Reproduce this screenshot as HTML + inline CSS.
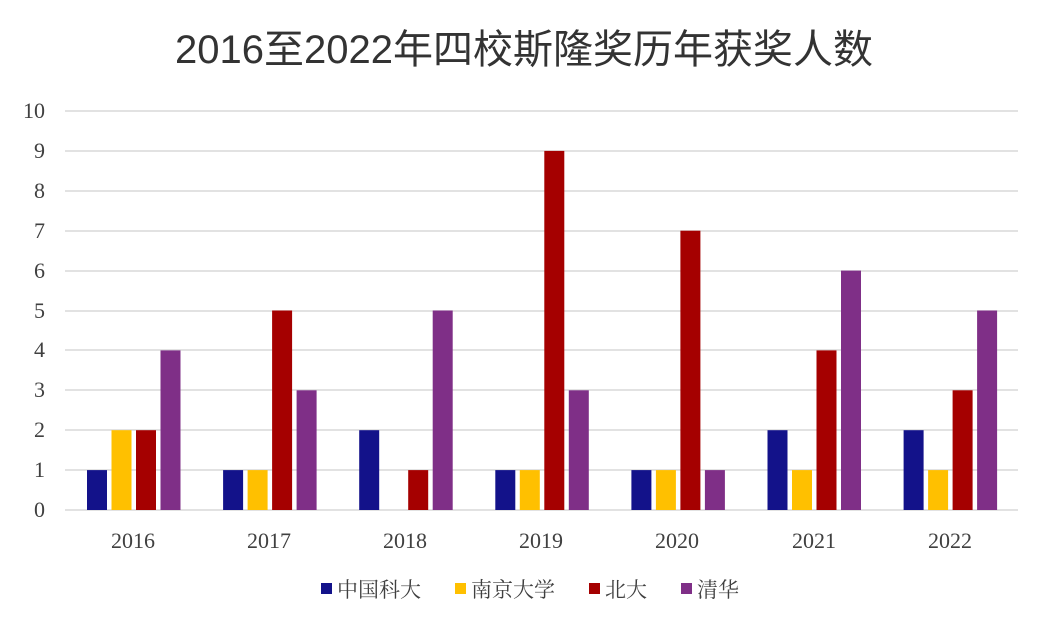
<!DOCTYPE html>
<html><head><meta charset="utf-8"><style>
body{margin:0;background:#fff;}
svg text{font-family:"Liberation Serif","Noto Serif CJK SC",serif;}
</style></head><body>
<svg width="1049" height="628" xmlns="http://www.w3.org/2000/svg">
<rect width="1049" height="628" fill="#fff"/>
<text x="524" y="63" text-anchor="middle" font-size="40" fill="#333" style="font-family:'Liberation Sans','Noto Sans CJK SC',sans-serif">2016至2022年四校斯隆奖历年获奖人数</text>
<g stroke="#d9d9d9" stroke-width="1.5">
<line x1="65" x2="1018" y1="111" y2="111"/><line x1="65" x2="1018" y1="151" y2="151"/><line x1="65" x2="1018" y1="191" y2="191"/><line x1="65" x2="1018" y1="231" y2="231"/><line x1="65" x2="1018" y1="271" y2="271"/><line x1="65" x2="1018" y1="311" y2="311"/><line x1="65" x2="1018" y1="350" y2="350"/><line x1="65" x2="1018" y1="390" y2="390"/><line x1="65" x2="1018" y1="430" y2="430"/><line x1="65" x2="1018" y1="470" y2="470"/><line x1="65" x2="1018" y1="510" y2="510"/>
</g>
<g font-size="22" fill="#404040" text-anchor="end">
<text x="45" y="118">10</text><text x="45" y="158">9</text><text x="45" y="198">8</text><text x="45" y="238">7</text><text x="45" y="278">6</text><text x="45" y="318">5</text><text x="45" y="357">4</text><text x="45" y="397">3</text><text x="45" y="437">2</text><text x="45" y="477">1</text><text x="45" y="517">0</text>
</g>
<g font-size="22" fill="#404040" text-anchor="middle">
<text x="133" y="548">2016</text><text x="269" y="548">2017</text><text x="405" y="548">2018</text><text x="541" y="548">2019</text><text x="677" y="548">2020</text><text x="814" y="548">2021</text><text x="950" y="548">2022</text>
</g>
<g>
<rect x="87" y="470.1" width="20" height="39.9" fill="#13128A"/>
<rect x="111.5" y="430.2" width="20" height="79.8" fill="#FFC000"/>
<rect x="136" y="430.2" width="20" height="79.8" fill="#A50000"/>
<rect x="160.5" y="350.4" width="20" height="159.6" fill="#7F2F87"/>

<rect x="223.1" y="470.1" width="20" height="39.9" fill="#13128A"/>
<rect x="247.6" y="470.1" width="20" height="39.9" fill="#FFC000"/>
<rect x="272.1" y="310.5" width="20" height="199.5" fill="#A50000"/>
<rect x="296.6" y="390.3" width="20" height="119.7" fill="#7F2F87"/>

<rect x="359.2" y="430.2" width="20" height="79.8" fill="#13128A"/>
<rect x="408.2" y="470.1" width="20" height="39.9" fill="#A50000"/>
<rect x="432.7" y="310.5" width="20" height="199.5" fill="#7F2F87"/>

<rect x="495.3" y="470.1" width="20" height="39.9" fill="#13128A"/>
<rect x="519.8" y="470.1" width="20" height="39.9" fill="#FFC000"/>
<rect x="544.3" y="150.9" width="20" height="359.1" fill="#A50000"/>
<rect x="568.8" y="390.3" width="20" height="119.7" fill="#7F2F87"/>

<rect x="631.4" y="470.1" width="20" height="39.9" fill="#13128A"/>
<rect x="655.9" y="470.1" width="20" height="39.9" fill="#FFC000"/>
<rect x="680.4" y="230.7" width="20" height="279.3" fill="#A50000"/>
<rect x="704.9" y="470.1" width="20" height="39.9" fill="#7F2F87"/>

<rect x="767.5" y="430.2" width="20" height="79.8" fill="#13128A"/>
<rect x="792" y="470.1" width="20" height="39.9" fill="#FFC000"/>
<rect x="816.5" y="350.4" width="20" height="159.6" fill="#A50000"/>
<rect x="841" y="270.6" width="20" height="239.4" fill="#7F2F87"/>

<rect x="903.6" y="430.2" width="20" height="79.8" fill="#13128A"/>
<rect x="928.1" y="470.1" width="20" height="39.9" fill="#FFC000"/>
<rect x="952.6" y="390.3" width="20" height="119.7" fill="#A50000"/>
<rect x="977.1" y="310.5" width="20" height="199.5" fill="#7F2F87"/>
</g>
<g font-size="21" fill="#404040" style="font-family:'Liberation Sans','Noto Sans CJK SC',sans-serif">
<rect x="321" y="583" width="11" height="11" fill="#13128A"/><text x="337" y="597">中国科大</text>
<rect x="455" y="583" width="11" height="11" fill="#FFC000"/><text x="471" y="597">南京大学</text>
<rect x="589" y="583" width="11" height="11" fill="#A50000"/><text x="605" y="597">北大</text>
<rect x="681" y="583" width="11" height="11" fill="#7F2F87"/><text x="697" y="597">清华</text>
</g>
</svg>
</body></html>
